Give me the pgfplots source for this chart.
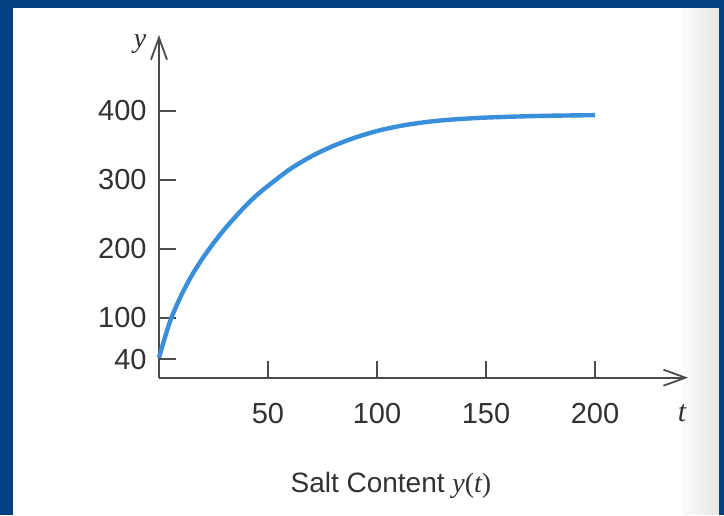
\documentclass[border=0pt]{standalone}
\usepackage{pgfplots}
\pgfplotsset{compat=1.18}
\usepackage{fontspec}
\setmainfont{Liberation Sans}
\newfontfamily\serifit{Liberation Serif}
\usetikzlibrary{arrows.meta}
\definecolor{frameblue}{RGB}{3,65,131}
\definecolor{curveblue}{RGB}{58,143,219}
\definecolor{axisgray}{RGB}{75,75,75}
\definecolor{textgray}{RGB}{50,50,50}

\begin{document}
\begin{tikzpicture}
% page frame (1 px of reference = 0.5pt; axis corner at px (159,377.7))
\fill[frameblue] (-79.5pt,-68.65pt) rectangle (282.5pt,188.85pt);
\fill[white] (-73pt,-68.65pt) rectangle (280pt,184.85pt);
\foreach \i/\c in {0/2,1/3,2/4,3/5,4/6,5/7,6/8,7/9}{
  \fill[black!\c] ({262pt+\i*2.25pt},-68.65pt) rectangle (280pt,184.85pt);
}
\begin{axis}[
  at={(0,0)}, anchor=south west,
  x=1.09pt, y=0.345pt,
  xmin=0, xmax=242.7, ymin=13, ymax=509.6,
  axis lines=left,
  clip=false,
  axis line style={axisgray, line width=0.9pt},
  x axis line style={-{Straight Barb[length=11pt,width=8pt,line width=0.9pt]}},
  y axis line style={-{Straight Barb[length=11pt,width=8pt,line width=0.9pt]}},
  xtick={50,100,150,200},
  ytick={40,100,200,300,400},
  tick align=inside,
  major tick length=8.5pt,
  tick style={axisgray, line width=0.9pt},
  /pgf/number format/assume math mode=true,
  ticklabel style={font=\fontsize{14.5}{17}\selectfont, text=textgray},
  xticklabel style={anchor=base, yshift=-22.8pt, inner sep=0pt},
  yticklabel style={anchor=east, xshift=-6pt, inner sep=0pt},
  xlabel={\serifit\itshape t},
  xlabel style={at={(axis cs:239.9,-38.2)}, anchor=center, font=\fontsize{15}{18}\selectfont, text=textgray},
  ylabel={\serifit\itshape y},
  ylabel style={at={(axis cs:-8.7,497)}, anchor=center, rotate=-90, font=\fontsize{14}{17}\selectfont, text=textgray},
]
\addplot[curveblue, line width=2.2pt, smooth, tension=0.5] coordinates {
(0,42) (5,94) (10,131) (15,161) (20,186) (25,208) (30,228) (35,246)
(40,263) (45,278) (50,291) (60,315) (70,334) (80,349) (90,361)
(100,370.5) (110,377.5) (120,382.5) (130,386) (140,388.3) (150,390)
(165,391.6) (180,392.7) (200,393.5)
};
\node[anchor=base, text=textgray, font=\fontsize{14}{17}\selectfont] at (axis cs:106.4,-152.7)
  {Salt Content {\serifit\itshape y}{\serifit(}{\serifit\itshape t}{\serifit)}};
\end{axis}
\end{tikzpicture}
\end{document}
